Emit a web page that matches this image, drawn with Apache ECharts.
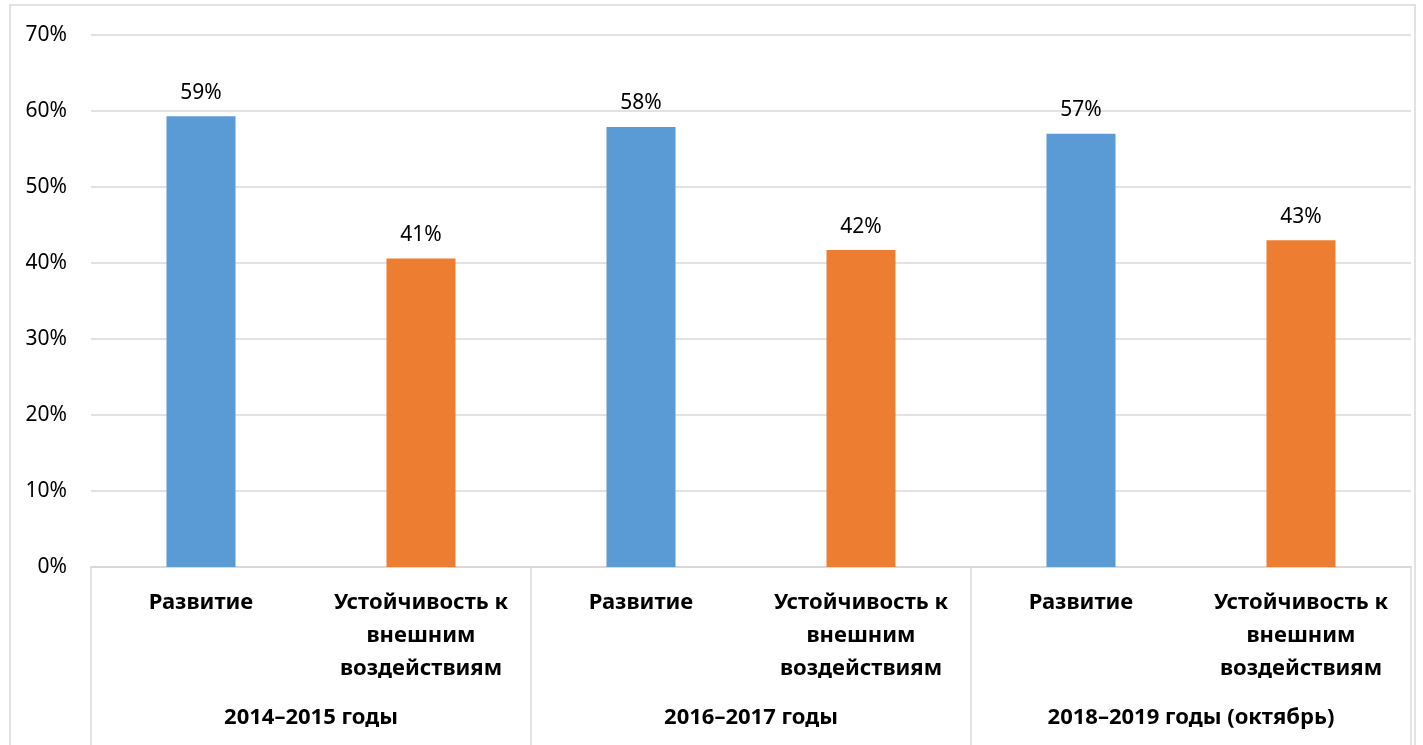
<!DOCTYPE html>
<html>
<head>
<meta charset="utf-8">
<script src="https://cdn.jsdelivr.net/npm/echarts@6/dist/echarts.min.js"></script>
<style>
html,body{margin:0;padding:0;background:#fff;}
#chart{width:1423px;height:745px;}
</style>
</head>
<body>
<div id="chart"></div>
<script>
const categories=['Развитие','Устойчивость к\nвнешним\nвоздействиям','Развитие','Устойчивость к\nвнешним\nвоздействиям','Развитие','Устойчивость к\nвнешним\nвоздействиям'];
const groups=['2014–2015 годы','2016–2017 годы','2018–2019 годы (октябрь)'];
const values=[59.3,40.6,57.9,41.7,57.0,43.0];
const barColors=['#5b9bd5','#ed7d31'];
const yTicks=[0,10,20,30,40,50,60,70];

const font='"Noto Sans", sans-serif';
const chart=echarts.init(document.getElementById('chart'));
chart.setOption({
    backgroundColor:'#fff',
    animation:false,
    textStyle:{fontFamily:font},
    graphic:[{type:'rect',shape:{x:10,y:5,width:1405,height:760},style:{fill:'none',stroke:'#d9d9d9',lineWidth:1.5},silent:true}],
    grid:{left:91,right:12,top:35,bottom:178},
    xAxis:[{
        type:'category',data:categories,position:'bottom',
        axisLine:{show:true,lineStyle:{color:'#d9d9d9',width:1.5}},
        axisTick:{show:false},
        axisLabel:{interval:0,margin:19,lineHeight:33,fontSize:22,fontWeight:'bold',color:'#000',fontFamily:font}
    },{
        type:'category',data:groups,position:'bottom',
        axisLine:{show:true,lineStyle:{color:'#d9d9d9',width:1.5}},
        axisTick:{show:true,length:180,lineStyle:{color:'#d9d9d9',width:1.5}},
        axisLabel:{interval:0,margin:134,lineHeight:33,fontSize:22,fontWeight:'bold',color:'#000',fontFamily:font}
    }],
    yAxis:{
        type:'value',min:0,max:70,interval:10,
        axisLine:{show:false},axisTick:{show:false},
        axisLabel:{margin:24,fontSize:21,color:'#000',fontFamily:font,
            formatter:v=>yTicks.includes(v)?v+'%':''},
        splitLine:{lineStyle:{color:'#d9d9d9',width:1.5}}
    },
    series:[{
        type:'bar',xAxisIndex:0,barWidth:69,
        data:values.map((v,i)=>({value:v,itemStyle:{color:barColors[i%2]}})),
        label:{show:true,position:'top',distance:13,fontSize:21,color:'#000',fontFamily:font,
            formatter:p=>Math.round(p.value)+'%'}
    }]
});
</script>
</body>
</html>
